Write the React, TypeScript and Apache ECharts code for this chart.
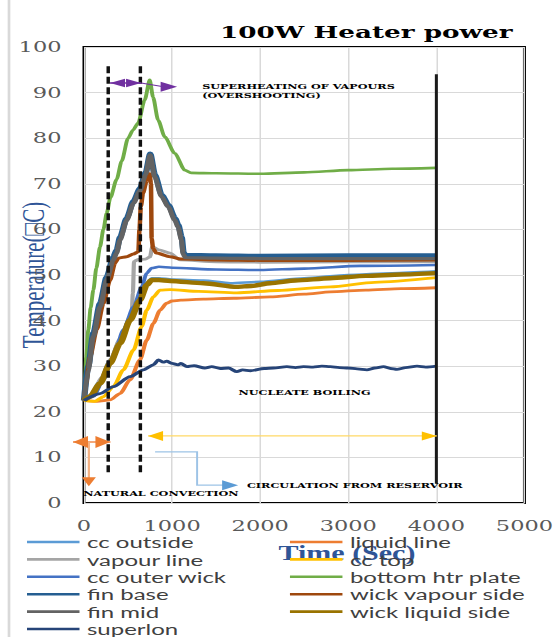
import React, { useEffect, useRef } from "react";
import * as echarts from "echarts";

// ---------- data (time in s, temperature in °C) ----------
const X_TICKS = [0, 1000, 2000, 3000, 4000, 5000];
const Y_TICKS = [0, 10, 20, 30, 40, 50, 60, 70, 80, 90, 100];

const ccOutside: number[][] = [[0,22.5],[68,23.5],[182,26.8],[295,31.3],[409,35.8],[523,40.8],[636,45.2],[712,48.3],[769,49.3],[850,49.3],[1000,49.0],[1356,48.8],[1660,48.2],[2000,48.5],[2500,49.3],[3000,50.0],[3500,50.4],[4000,50.8]];
const liquidLine: number[][] = [[0,22.5],[150,22.3],[295,22.6],[409,24],[523,27],[636,31.4],[712,35.7],[788,39.4],[864,42.3],[939,43.8],[1000,44.3],[1100,44.5],[1356,44.7],[1700,44.9],[2114,45.2],[2500,45.8],[2795,46.3],[3200,46.7],[3600,47.0],[4000,47.2]];
const vapourLine: number[][] = [[0,22.5],[100,24],[200,27.5],[300,31.5],[409,36],[485,38.5],[540,41],[555,46],[568,53],[620,53.4],[700,53.5],[750,54],[775,56.2],[850,55.5],[977,54.8],[1090,53.3],[1500,52.9],[2000,52.8],[3000,52.9],[4000,52.9]];
const ccTop: number[][] = [[0,22.5],[125,22.3],[220,23.3],[333,25.5],[447,29.2],[561,33.5],[655,38.7],[712,42.3],[788,45.2],[864,46.7],[977,46.8],[1300,46.4],[1735,46.1],[2200,46.6],[2795,47.4],[3300,48.4],[4000,49.4]];
const ccOuterWick: number[][] = [[0,22.5],[106,23.3],[220,27],[333,32],[447,38],[561,43],[655,47.4],[712,50.4],[769,51.5],[850,51.8],[1000,51.6],[1500,51.2],[2000,51.1],[2500,51.4],[3136,52],[4000,52.2]];
const bottomHtrPlate: number[][] = [[0,22.5],[5,24.5],[11,26.5],[25,32],[49,38],[75,42.8],[106,46.7],[140,51.5],[182,56.2],[220,60],[258,63.6],[300,67],[371,71],[428,75],[500,80],[557,81.8],[614,83.3],[690,88.4],[746,92.8],[784,89],[841,84],[917,80.3],[1030,76.7],[1144,73],[1216,72.4],[1500,72.3],[2000,72.2],[2500,72.5],[3000,73],[3500,73.3],[4000,73.5]];
const finBase: number[][] = [[0,22.5],[49,30],[106,37.3],[182,43.8],[258,49.6],[333,54],[371,55.5],[409,58.3],[485,62.5],[561,66.2],[636,69],[700,72.5],[752,76.6],[805,72],[882,67.6],[958,65.4],[1033,62.5],[1071,61],[1109,58.3],[1130,55],[1150,54.4],[1500,54.3],[2000,54.2],[3000,54.3],[4000,54.3]];
const wickVapourSide: number[][] = [[0,22.5],[23,26.3],[68,32],[144,38],[220,43.8],[295,48.9],[352,52.6],[390,53.7],[485,54],[560,54.6],[617,55.1],[630,60],[645,65],[670,68],[712,70.8],[745,72.2],[760,70],[768,58],[785,55.8],[820,54.8],[977,54],[1100,53.5],[1500,53.3],[2000,53.2],[3000,53.2],[4000,53.3]];
const finMid: number[][] = [[0,22.5],[49,29.2],[106,36.5],[182,43],[258,48.9],[333,53.3],[371,54.8],[409,57.7],[485,62],[561,65.7],[636,68.5],[700,72],[750,76.3],[803,71.5],[879,67.2],[955,65],[1030,62],[1068,60.5],[1106,57.7],[1125,54.6],[1150,53.8],[1500,53.7],[2000,53.6],[3000,53.6],[4000,53.6]];
const wickLiquidSide: number[][] = [[0,22.5],[68,23.3],[182,26.2],[295,30.6],[409,35],[523,40.1],[636,44.5],[712,47.8],[769,48.9],[850,48.9],[977,48.7],[1356,48.2],[1735,47.4],[1900,47.6],[2114,48.2],[2400,48.8],[2795,49.3],[3200,49.8],[3600,50.1],[4000,50.4]];
const superlon: number[][] = [[0,22.5],[182,24],[333,25.5],[523,27.7],[674,29.2],[788,30.3],[845,31.4],[900,30.9],[939,31.1],[1000,30.6],[1068,30.3],[1100,30.6],[1167,29.9],[1250,30.1],[1371,29.6],[1450,29.9],[1546,29.5],[1640,29.6],[1735,28.8],[1800,29.2],[1890,29.0],[2045,29.5],[2150,29.6],[2303,29.9],[2400,29.7],[2492,29.9],[2600,29.8],[2700,30.0],[2795,29.9],[2900,29.7],[3000,29.6],[3100,29.4],[3212,29.2],[3300,29.6],[3400,29.9],[3480,29.5],[3553,29.3],[3650,29.7],[3780,30.0],[3880,29.8],[4000,30.0]];

const SERIES_NAMES = ["cc outside","liquid line","vapour line","cc top","cc outer wick","bottom htr plate","fin base","wick vapour side","fin mid","wick liquid side","superlon"];
const SERIES_DATA = [ccOutside, liquidLine, vapourLine, ccTop, ccOuterWick, bottomHtrPlate, finBase, wickVapourSide, finMid, wickLiquidSide, superlon];
const SERIES_COLORS = ["#5B9BD5","#ED7D31","#A5A5A5","#FFC000","#4472C4","#70AD47","#255E91","#9E480E","#636363","#997300","#264478"];
const SERIES_WIDTHS = [2.6,2.8,2.8,2.8,2.6,2.6,4.2,3,3.4,4.4,2.8];
const LEGEND_LEFT = ["cc outside","vapour line","cc outer wick","fin base","fin mid","superlon"];
const LEGEND_RIGHT = ["liquid line","cc top","bottom htr plate","wick vapour side","wick liquid side"];

// annotation anchors (data coordinates)
const DASH_TIMES = [275, 640];
const DASH_RANGE = [6.6, 95.8];
const END_TIME = 4000;
const END_RANGE = [4.2, 94.0];

const S = 1.5; // horizontal stretch of the original picture
const W = 559, H = 637;
const CW = W / S;

export default function App() {
  const ref = useRef<HTMLDivElement>(null);
  useEffect(() => {
    const chart = echarts.init(ref.current!, null, { renderer: "svg" });
    const legendBase = {
      orient: "vertical",
      top: 534,
      padding: 0,
      icon: "rect",
      itemWidth: 35,
      itemHeight: 2.6,
      itemGap: 1.4,
      selectedMode: false,
      textStyle: { fontFamily: "Lato", fontSize: 16, color: "#404040", lineHeight: 16 },
    };
    chart.setOption({
      animation: false,
      backgroundColor: "#fff",
      title: {
        text: "100W Heater power",
        left: 146.7,
        top: 22.5,
        padding: 0,
        textStyle: { fontFamily: "DejaVu Serif", fontWeight: "bold", fontSize: 17.5, color: "#000" },
      },
      legend: [
        { ...legendBase, left: 18, data: LEGEND_LEFT },
        { ...legendBase, left: 193.3, data: LEGEND_RIGHT },
      ],
      grid: {
        left: 56, right: CW - 349.3, top: 47, bottom: H - 503,
        containLabel: false, outerBoundsMode: "none",
        show: true, borderColor: "#000", borderWidth: 2, backgroundColor: "transparent",
      },
      xAxis: {
        type: "value",
        min: X_TICKS[0],
        max: X_TICKS[X_TICKS.length - 1],
        interval: 1000,
        axisLine: { show: false },
        axisTick: { show: false },
        splitLine: { show: true, lineStyle: { color: "#D9D9D9", width: 1 } },
        axisLabel: { margin: 15, fontFamily: "DejaVu Serif", fontSize: 15, color: "#595959", formatter: (v: number) => String(v) },
        name: "Time (Sec)",
        nameLocation: "middle",
        nameGap: 40,
        nameTextStyle: { fontFamily: "Liberation Serif", fontWeight: "bold", fontSize: 20, color: "#2F5597", padding: [0, 0, 0, 57] },
      },
      yAxis: {
        type: "value",
        min: Y_TICKS[0],
        max: Y_TICKS[Y_TICKS.length - 1],
        interval: 10,
        axisLine: { show: false },
        axisTick: { show: false },
        splitLine: { show: true, lineStyle: { color: "#D9D9D9", width: 1 } },
        axisLabel: { margin: 15, fontFamily: "DejaVu Serif", fontSize: 15, color: "#595959", formatter: (v: number) => String(v) },
      },
      series: SERIES_NAMES.map((name, i) => ({
        name,
        type: "line",
        data: SERIES_DATA[i],
        showSymbol: false,
        symbol: "none",
        smooth: 0.25,
        smoothMonotone: "x",
        color: SERIES_COLORS[i],
        lineStyle: { width: SERIES_WIDTHS[i], color: SERIES_COLORS[i] },
        z: 2 + i * 0.01,
      })),
    });

    const P = (t: number, T: number) => chart.convertToPixel({ gridIndex: 0 }, [t, T]) as number[];
    const head = (tip: number[], dir: number[], len: number, hw: number, fill: string) => {
      const [dx, dy] = dir;
      const bx = tip[0] - dx * len, by = tip[1] - dy * len;
      return {
        type: "polygon",
        silent: true,
        z: 50,
        shape: { points: [[tip[0], tip[1]], [bx - dy * hw, by + dx * hw], [bx + dy * hw, by - dx * hw]] },
        style: { fill },
      };
    };
    const seg = (a: number[], b: number[], stroke: string, lineWidth: number, lineDash?: number[]) => ({
      type: "line",
      silent: true,
      z: 49,
      shape: { x1: a[0], y1: a[1], x2: b[0], y2: b[1] },
      style: { stroke, lineWidth, lineDash },
    });
    const label = (t: number, T: number, text: string) => {
      const p = P(t, T);
      return {
        type: "text",
        silent: true,
        z: 51,
        x: p[0],
        y: p[1],
        style: { text, fill: "#000", fontFamily: "DejaVu Serif", fontWeight: "bold", fontSize: 7.5, align: "left", verticalAlign: "middle" },
      };
    };

    const g: any[] = [];
    g.push(seg([6, 0], [6, H], "#D9D9D9", 1.8));
    // y-axis title (rotated)
    g.push({
      type: "text",
      silent: true,
      x: 22,
      y: 275,
      rotation: Math.PI / 2,
      style: { text: "Temperature(\u25A1C)", fill: "#2F5597", fontFamily: "Liberation Serif", fontSize: 21, align: "center", verticalAlign: "middle" },
    });
    DASH_TIMES.forEach((t) => g.push(seg(P(t, DASH_RANGE[1]), P(t, DASH_RANGE[0]), "#111", 2.3, [7, 3.5])));
    g.push(seg(P(END_TIME, END_RANGE[1]), P(END_TIME, END_RANGE[0]), "#1a1a1a", 2));
    const pa = P(295, 92.1), pb = P(648, 92.1), pc = P(1057, 91.3);
    g.push(seg(pa, pb, "#7030A0", 1.5));
    g.push(head(pa, [-1, 0], 10, 4.3, "#7030A0"));
    g.push(head(pb, [1, 0], 10, 4.3, "#7030A0"));
    g.push(seg(pb, [pc[0] - 9, pc[1]], "#7030A0", 1));
    g.push(head(pc, [1, 0], 11, 5, "#7030A0"));
    const oa = P(-125, 13.4), ob = P(300, 13.4), oc = P(55, 13.4), od = P(55, 3.7);
    g.push(seg(oa, ob, "#F08A4B", 1.5));
    g.push(head(oa, [-1, 0], 10, 6, "#ED7D31"));
    g.push(head(ob, [1, 0], 10, 6, "#ED7D31"));
    g.push(seg(oc, [od[0], od[1] - 8], "#F4B183", 1.5));
    g.push(head(od, [0, 1], 9, 4.7, "#ED7D31"));
    const ga = P(727, 14.7), gb = P(4005, 14.7);
    g.push(seg(ga, gb, "#FFD966", 1.2));
    g.push(head(ga, [-1, 0], 10, 5, "#FFC000"));
    g.push(head(gb, [1, 0], 10, 4.5, "#FFC000"));
    const b1 = P(807, 11.2), b2 = P(1284, 11.2), b3 = P(1284, 3.9), b4 = P(1750, 3.9);
    g.push({
      type: "polyline",
      silent: true,
      z: 49,
      shape: { points: [b1, b2, b3, [b4[0] - 9, b4[1]]] },
      style: { stroke: "#9DC3E6", lineWidth: 1.3, fill: null },
    });
    g.push(head(b4, [1, 0], 10.7, 5, "#5B9BD5"));
    g.push(label(1341, 91.45, "SUPERHEATING OF VAPOURS"));
    g.push(label(1341, 89.4, "(OVERSHOOTING)"));
    g.push(label(1753, 24.2, "NUCLEATE BOILING"));
    g.push(label(-8, 2.1, "NATURAL CONVECTION"));
    g.push(label(1849, 3.95, "CIRCULATION FROM RESERVOIR"));

    chart.setOption({ graphic: g });
    return () => chart.dispose();
  }, []);

  return (
    <div style={{ position: "absolute", left: 0, top: 0, width: W, height: H, overflow: "hidden", background: "#fff" }}>
      <div ref={ref} style={{ width: CW, height: H, transform: `scaleX(${S})`, transformOrigin: "0 0" }} />
    </div>
  );
}
